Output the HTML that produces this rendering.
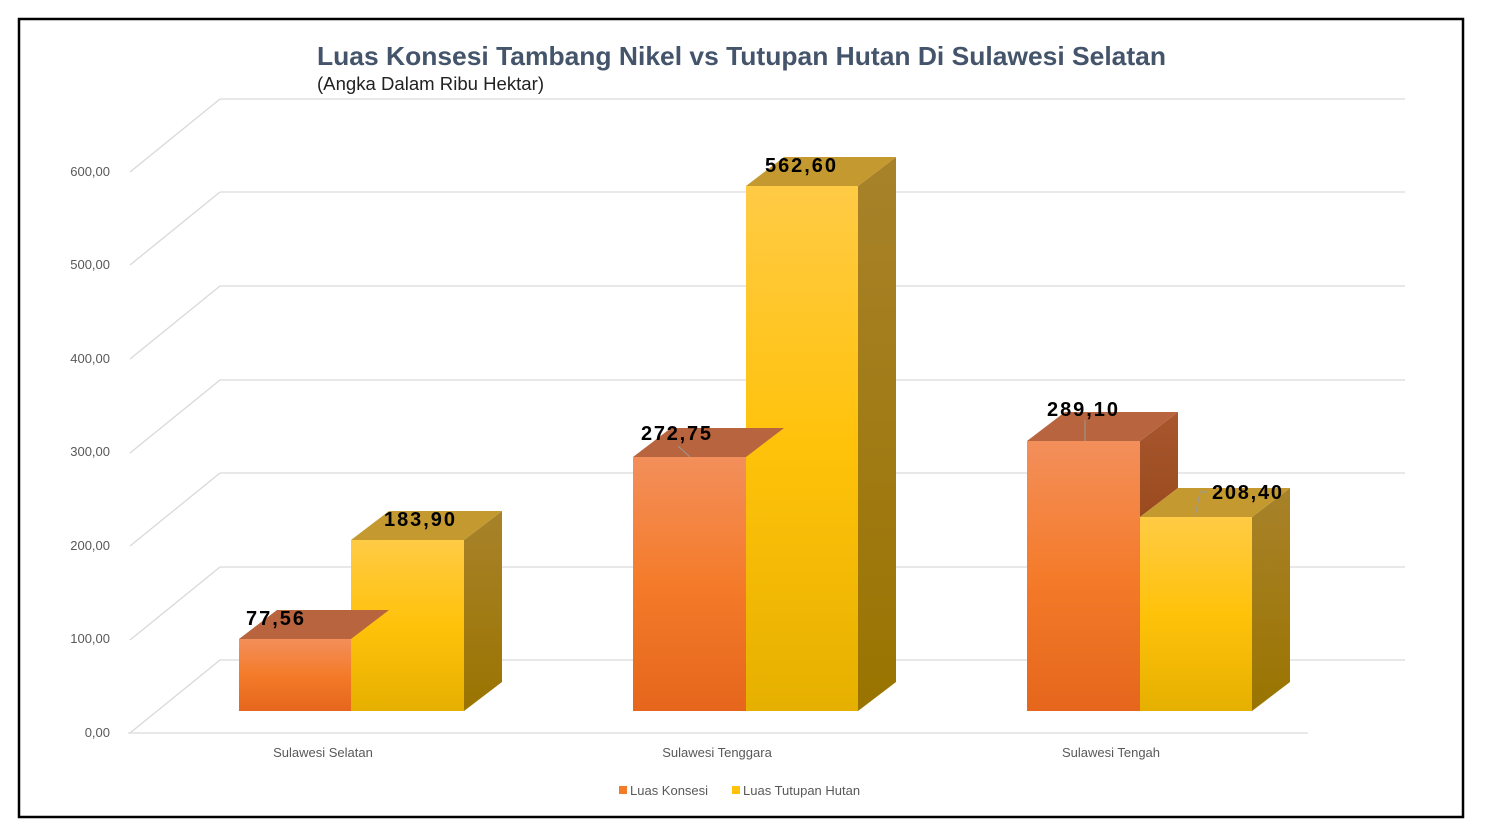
<!DOCTYPE html>
<html><head><meta charset="utf-8"><style>
html,body{margin:0;padding:0;background:#fff;width:1490px;height:838px;overflow:hidden}
text{font-family:"Liberation Sans",Arial,sans-serif}
</style></head><body>
<svg width="1490" height="838" viewBox="0 0 1490 838" xmlns="http://www.w3.org/2000/svg">
<defs>
<linearGradient id="of" x1="0" y1="0" x2="0" y2="1"><stop offset="0" stop-color="#F38F5B"/><stop offset="0.5" stop-color="#F47B2A"/><stop offset="1" stop-color="#E5661C"/></linearGradient>
<linearGradient id="yf" x1="0" y1="0" x2="0" y2="1"><stop offset="0" stop-color="#FFCB45"/><stop offset="0.5" stop-color="#FFC20A"/><stop offset="1" stop-color="#E6B000"/></linearGradient>
<linearGradient id="os" x1="0" y1="0" x2="0" y2="1"><stop offset="0" stop-color="#A8562E"/><stop offset="1" stop-color="#9A4B1E"/></linearGradient>
<linearGradient id="ys" x1="0" y1="0" x2="0" y2="1"><stop offset="0" stop-color="#A8822A"/><stop offset="1" stop-color="#9A7400"/></linearGradient>
</defs>
<rect x="19" y="19" width="1444" height="798" fill="#fff" stroke="#000" stroke-width="2.5"/>
<text x="317" y="65" font-size="26" font-weight="bold" fill="#44546A" textLength="849" lengthAdjust="spacingAndGlyphs">Luas Konsesi Tambang Nikel vs Tutupan Hutan Di Sulawesi Selatan</text>
<text x="317" y="90" font-size="18" fill="#222" textLength="227" lengthAdjust="spacingAndGlyphs">(Angka Dalam Ribu Hektar)</text>
<g stroke="#D9D9D9" stroke-width="1.3" fill="none">
<path d="M220 99H1405M220 192H1405M220 286H1405M220 380H1405M220 473H1405M220 567H1405M220 660H1405"/>
<path d="M220 99L130 172M220 192L130 265M220 286L130 359M220 380L130 453M220 473L130 546M220 567L130 640M220 660L130 733"/>
<path d="M128 733H1308"/>
</g>
<g font-size="13" fill="#595959" text-anchor="end">
<text x="110" y="176">600,00</text><text x="110" y="269">500,00</text><text x="110" y="363">400,00</text><text x="110" y="456">300,00</text><text x="110" y="550">200,00</text><text x="110" y="643">100,00</text><text x="110" y="737">0,00</text>
</g>
<g>
<polygon points="464,540 502,511 502,682 464,711" fill="url(#ys)"/>
<polygon points="351,540 389,511 502,511 464,540" fill="#C49A30"/>
<rect x="351" y="540" width="113" height="171" fill="url(#yf)"/>
<polygon points="239,639 277,610 389,610 351,639" fill="#B8643E"/>
<rect x="239" y="639" width="112" height="72" fill="url(#of)"/>
<polygon points="858,186 896,157 896,682 858,711" fill="url(#ys)"/>
<polygon points="746,186 784,157 896,157 858,186" fill="#C49A30"/>
<rect x="746" y="186" width="112" height="525" fill="url(#yf)"/>
<polygon points="633,457 671,428 784,428 746,457" fill="#B8643E"/>
<rect x="633" y="457" width="113" height="254" fill="url(#of)"/>
<polygon points="1140,441 1178,412 1178,488 1140,517" fill="url(#os)"/>
<polygon points="1027,441 1065,412 1178,412 1140,441" fill="#B8643E"/>
<rect x="1027" y="441" width="113" height="270" fill="url(#of)"/>
<polygon points="1252,517 1290,488 1290,682 1252,711" fill="url(#ys)"/>
<polygon points="1140,517 1178,488 1290,488 1252,517" fill="#C49A30"/>
<rect x="1140" y="517" width="112" height="194" fill="url(#yf)"/>
</g>
<g stroke="#999" stroke-width="1" fill="none">
<path d="M678 446L690 457M1085 420L1085 441M1208 492L1200 492L1195 517"/>
</g>
<g font-size="20" font-weight="bold" fill="#000" lengthAdjust="spacingAndGlyphs">
<text x="246" y="625" textLength="58">77,56</text><text x="384" y="526" textLength="71">183,90</text>
<text x="641" y="440" textLength="70">272,75</text><text x="765" y="172" textLength="71">562,60</text>
<text x="1047" y="416" textLength="71">289,10</text><text x="1212" y="499" textLength="70">208,40</text>
</g>
<g font-size="13" fill="#595959" text-anchor="middle">
<text x="323" y="757">Sulawesi Selatan</text><text x="717" y="757">Sulawesi Tenggara</text><text x="1111" y="757">Sulawesi Tengah</text>
</g>
<rect x="619" y="786" width="8" height="8" fill="#F47B2A"/>
<text x="630" y="795" font-size="13" fill="#595959">Luas Konsesi</text>
<rect x="732" y="786" width="8" height="8" fill="#FFC20A"/>
<text x="743" y="795" font-size="13" fill="#595959">Luas Tutupan Hutan</text>
</svg>
</body></html>
